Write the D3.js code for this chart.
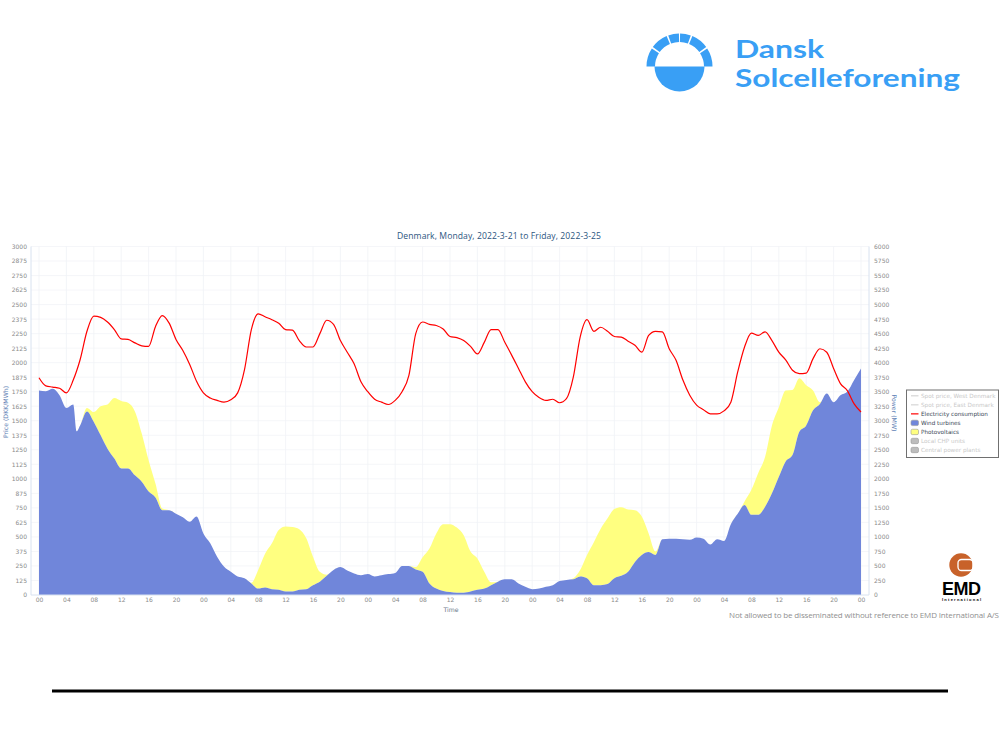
<!DOCTYPE html>
<html>
<head>
    <meta charset="utf-8">
    <style>
        body { margin: 0; background: white; }
        svg { display: block; }
        .axis path, .axis line { display: none; }
        .axis text { font-family: 'DejaVu Sans', sans-serif; font-size: 6px; fill: #8a8a8a; }
        .legend text { font-family: 'DejaVu Sans', sans-serif; font-size: 5.7px; }
    </style>
</head>
<body>
    <svg width="1000" height="750"></svg>
    <script src="https://d3js.org/d3.v7.min.js"></script>
    <script>
        // hours since monday 00:00, the extra 5.5 is there for the dip in the wind curve
        let hours = [
            0, 1, 2, 3, 4, 5, 5.5, 6, 7, 8, 9, 10, 11,
            12, 13, 14, 15, 16, 17, 18, 19, 20, 21, 22, 23,
            24, 25, 26, 27, 28, 29, 30, 31, 32, 33, 34, 35,
            36, 37, 38, 39, 40, 41, 42, 43, 44, 45, 46, 47,
            48, 49, 50, 51, 52, 53, 54, 55, 56, 57, 58, 59,
            60, 61, 62, 63, 64, 65, 66, 67, 68, 69, 70, 71,
            72, 73, 74, 75, 76, 77, 78, 79, 80, 81, 82, 83,
            84, 85, 86, 87, 88, 89, 90, 91, 92, 93, 94, 95,
            96, 97, 98, 99, 100, 101, 102, 103, 104, 105, 106, 107,
            108, 109, 110, 111, 112, 113, 114, 115, 116, 117, 118, 119,
            120
        ];
        // all in MW (right axis)
        let wind = [
            3520, 3510, 3550, 3440, 3220, 3280, 2820, 2920, 3160, 2980, 2750, 2520, 2350,
            2180, 2180, 2060, 1950, 1780, 1680, 1460, 1460, 1400, 1340, 1260, 1350,
            1060, 890, 660, 490, 400, 320, 290, 200, 110, 130, 100, 90,
            60, 60, 90, 100, 170, 230, 330, 430, 480, 420, 370, 340,
            360, 320, 340, 360, 380, 500, 500, 440, 400, 200, 110, 70,
            50, 40, 40, 60, 90, 110, 170, 230, 270, 270, 200, 140,
            100, 110, 140, 170, 240, 260, 270, 320, 290, 170, 170, 190,
            290, 330, 400, 570, 690, 740, 690, 960, 970, 970, 960, 950,
            990, 970, 870, 960, 930, 1220, 1400, 1550, 1380, 1380, 1520, 1750,
            2030, 2300, 2410, 2810, 2920, 3180, 3290, 3470, 3320, 3440, 3500, 3700,
            3900
        ];
        let solar = [
            0, 0, 0, 0, 0, 0, 0, 0, 60, 170, 500, 760, 1040,
            1160, 1130, 1100, 830, 540, 240, 30, 0, 0, 0, 0, 0,
            0, 0, 0, 0, 0, 0, 0, 10, 320, 580, 790, 1030,
            1120, 1110, 1040, 880, 490, 170, 20, 0, 0, 0, 0, 0,
            0, 0, 0, 0, 0, 0, 0, 40, 250, 600, 950, 1150,
            1170, 1120, 990, 690, 540, 290, 50, 0, 0, 0, 0, 0,
            0, 0, 0, 0, 0, 0, 20, 110, 400, 740, 970, 1130,
            1190, 1180, 1070, 890, 660, 320, 60, 0, 0, 0, 0, 0,
            0, 0, 0, 0, 0, 0, 0, 60, 430, 720, 860, 1170,
            1200, 1220, 1120, 920, 690, 340, 30, 0, 0, 0, 0, 0,
            0
        ];
        let consumption = [
            3740, 3600, 3580, 3560, 3480, 3700, 3860, 4050, 4540, 4800, 4780, 4700, 4570,
            4410, 4400, 4340, 4290, 4280, 4620, 4810, 4680, 4400, 4210, 3970, 3680,
            3480, 3390, 3350, 3320, 3360, 3480, 3880, 4570, 4840, 4790, 4740, 4680,
            4570, 4560, 4380, 4270, 4270, 4500, 4730, 4660, 4380, 4180, 3980, 3670,
            3500, 3370, 3320, 3280, 3350, 3500, 3780, 4500, 4700, 4660, 4640, 4580,
            4450, 4430, 4380, 4280, 4150, 4350, 4570, 4570, 4350, 4130, 3900, 3670,
            3500, 3400, 3350, 3370, 3310, 3380, 3750, 4440, 4740, 4540, 4610, 4540,
            4450, 4440, 4370, 4300, 4180, 4470, 4540, 4530, 4240, 4040, 3700, 3440,
            3270, 3190, 3120, 3120, 3170, 3320, 3840, 4270, 4510, 4470, 4530, 4380,
            4180, 4050, 3870, 3810, 3820, 4070, 4240, 4180, 3900, 3640, 3520, 3290,
            3150
        ];
        let timeTicks = d3.range(0, 121, 4);
        let priceTicks = d3.range(0, 3001, 125);
        let powerTicks = d3.range(0, 6001, 250);
        let legendLabels = ["Spot price, West Denmark", "Spot price, East Denmark", "Electricity consumption",
            "Wind turbines", "Photovoltaics", "Local CHP units", "Central power plants"];
        let legendColors = ["#d5d5d5", "#d5d5d5", "#ff0000", "#7086da", "#ffff80", "#bdbdbd", "#bdbdbd"];
        let legendOn = [false, false, true, true, true, false, false];

        let svg = d3.select("svg");

        // plot frame
        let plotLeft = 31, plotRight = 869, plotTop = 246.5, plotBottom = 595;

        let x = d3.scaleLinear().domain([0, 120]).range([39, 861]);
        let yPrice = d3.scaleLinear().domain([0, 3000]).range([plotBottom, plotTop]);
        let yPower = d3.scaleLinear().domain([0, 6000]).range([plotBottom, plotTop]);

        // grid
        svg.selectAll(".hgrid")
            .data(priceTicks.slice(1))
            .join("line")
            .attr("x1", plotLeft).attr("x2", plotRight)
            .attr("y1", d => yPrice(d)).attr("y2", d => yPrice(d))
            .style("stroke", "#f3f4f7").style("stroke-width", 0.8);

        svg.selectAll(".vgrid")
            .data(timeTicks)
            .join("line")
            .attr("x1", d => x(d)).attr("x2", d => x(d))
            .attr("y1", plotTop).attr("y2", plotBottom)
            .style("stroke", "#f0f2f6").style("stroke-width", 0.8);

        // stacked areas, wind at the bottom, solar on top of it
        let table = wind.map((w, i) => ({ hour: hours[i], wind: w, solar: solar[i] }));
        let stacked = d3.stack().keys(["wind", "solar"])(table);
        let area = d3.area()
            .curve(d3.curveMonotoneX)
            .x(d => x(d.data.hour))
            .y0(d => yPower(d[0]))
            .y1(d => yPower(d[1]));

        svg.append("path").attr("d", area(stacked[1])).style("fill", "#ffff80");
        svg.append("path").attr("d", area(stacked[0])).style("fill", "#7086da");

        let line = d3.line()
            .curve(d3.curveMonotoneX)
            .x((d, i) => x(hours[i]))
            .y(d => yPower(d));

        svg.append("path")
            .attr("d", line(consumption))
            .style("fill", "none")
            .style("stroke", "#ff0000")
            .style("stroke-width", 1.2);

        // axis lines
        svg.append("path")
            .attr("d", d3.line()([[plotLeft, plotTop], [plotLeft, plotBottom], [plotRight, plotBottom], [plotRight, plotTop]]))
            .style("fill", "none")
            .style("stroke", "#d8e2f0")
            .style("stroke-width", 1);

        // axes
        svg.append("g").attr("class", "axis")
            .attr("transform", `translate(${plotLeft - 4},0)`)
            .call(d3.axisLeft(yPrice).tickValues(priceTicks).tickSize(0).tickPadding(0).tickFormat(d3.format("d")));

        svg.append("g").attr("class", "axis")
            .attr("transform", `translate(${plotRight + 5},0)`)
            .call(d3.axisRight(yPower).tickValues(powerTicks).tickSize(0).tickPadding(0).tickFormat(d3.format("d")));

        svg.append("g").attr("class", "axis")
            .attr("transform", `translate(0,${plotBottom + 3})`)
            .call(d3.axisBottom(x).tickValues(timeTicks).tickSize(0).tickPadding(0)
                .tickFormat(d => d3.format("02")(d % 24)));

        // titles
        svg.append("text")
            .attr("x", 499).attr("y", 239)
            .attr("text-anchor", "middle")
            .attr("textLength", 204)
            .style("font-family", "'Open Sans', sans-serif")
            .style("font-size", "8.6px")
            .style("fill", "#2b5580")
            .text("Denmark, Monday, 2022-3-21 to Friday, 2022-3-25");

        svg.append("text")
            .attr("x", 451).attr("y", 612)
            .attr("text-anchor", "middle")
            .style("font-family", "'DejaVu Sans', sans-serif")
            .style("font-size", "6.2px")
            .style("fill", "#6b7a8c")
            .text("Time");

        svg.append("text")
            .attr("transform", "translate(8,412) rotate(-90)")
            .attr("text-anchor", "middle")
            .style("font-family", "'DejaVu Sans', sans-serif")
            .style("font-size", "6.2px")
            .style("fill", "#5f7fb5")
            .text("Price (DKK/MWh)");

        svg.append("text")
            .attr("transform", "translate(892,413) rotate(90)")
            .attr("text-anchor", "middle")
            .style("font-family", "'DejaVu Sans', sans-serif")
            .style("font-size", "6.2px")
            .style("fill", "#5f7fb5")
            .text("Power (MW)");

        // legend
        let legend = svg.append("g").attr("class", "legend");
        legend.append("rect")
            .attr("x", 906.5).attr("y", 390).attr("width", 92).attr("height", 67.5)
            .style("fill", "white").style("stroke", "#707070").style("stroke-width", 1);

        let rowY = d3.scaleLinear().domain([0, 6]).range([395.8, 450]);
        legendLabels.forEach((label, i) => {
            if (i < 3) {
                legend.append("line")
                    .attr("x1", 911).attr("x2", 918.5)
                    .attr("y1", rowY(i)).attr("y2", rowY(i))
                    .style("stroke", legendColors[i]).style("stroke-width", 1.2);
            } else {
                legend.append("rect")
                    .attr("x", 911).attr("y", rowY(i) - 2.7)
                    .attr("width", 7.5).attr("height", 5.4).attr("rx", 1.5)
                    .style("fill", legendColors[i]).style("stroke", "#999").style("stroke-width", 0.6);
            }
            legend.append("text")
                .attr("x", 921).attr("y", rowY(i) + 2)
                .style("fill", legendOn[i] ? "#3a4656" : "#c9c9c9")
                .text(label);
        });

        // footer note and rule
        svg.append("text")
            .attr("x", 729).attr("y", 618)
            .attr("textLength", 270)
            .style("font-family", "'Open Sans', sans-serif")
            .style("font-size", "8px")
            .style("fill", "#8f8f8f")
            .text("Not allowed to be disseminated without reference to EMD International A/S");

        svg.append("rect")
            .attr("x", 52).attr("y", 689.5).attr("width", 896).attr("height", 3)
            .style("fill", "black");

        // EMD logo
        svg.append("circle").attr("cx", 961).attr("cy", 565).attr("r", 11.7).style("fill", "#c8622a");
        svg.append("rect")
            .attr("x", 958).attr("y", 559.5).attr("width", 15).attr("height", 11).attr("rx", 3.5)
            .style("fill", "none").style("stroke", "white").style("stroke-width", 1.3);
        svg.append("text")
            .attr("x", 961.5).attr("y", 595)
            .attr("text-anchor", "middle")
            .attr("textLength", 39)
            .style("font-family", "'Liberation Sans', sans-serif")
            .style("font-weight", "bold")
            .style("font-size", "18px")
            .text("EMD");
        svg.append("text")
            .attr("x", 961.5).attr("y", 601)
            .attr("text-anchor", "middle")
            .attr("textLength", 39)
            .style("font-family", "'Liberation Sans', sans-serif")
            .style("font-weight", "bold")
            .style("font-size", "4px")
            .text("International");

        // Dansk Solcelleforening logo
        let logoBlue = "#399ff5";
        let logo = svg.append("g").attr("transform", "translate(679.5,66.5)");
        let sunTop = [[-90, -57], [-54, -23], [-20, -1], [1, 20], [23, 54], [57, 90]];
        let segment = d3.arc().innerRadius(24.5).outerRadius(33);
        logo.selectAll("path")
            .data(sunTop)
            .join("path")
            .attr("d", d => segment({ startAngle: d[0] * Math.PI / 180, endAngle: d[1] * Math.PI / 180 }))
            .style("fill", logoBlue);
        logo.append("path")
            .attr("d", d3.arc().innerRadius(0).outerRadius(25)({ startAngle: Math.PI / 2, endAngle: 3 * Math.PI / 2 }))
            .style("fill", logoBlue);

        // the two lines sit tight in the logo, 24px keeps their text boxes apart
        svg.append("text")
            .attr("x", 735).attr("y", 58)
            .attr("textLength", 89)
            .attr("lengthAdjust", "spacingAndGlyphs")
            .style("font-family", "Lato, sans-serif").style("font-weight", "bold")
            .style("font-size", "24px").style("fill", logoBlue)
            .text("Dansk");
        svg.append("text")
            .attr("x", 735).attr("y", 87)
            .attr("textLength", 225)
            .attr("lengthAdjust", "spacingAndGlyphs")
            .style("font-family", "Lato, sans-serif").style("font-weight", "bold")
            .style("font-size", "24px").style("fill", logoBlue)
            .text("Solcelleforening");
    </script>
</body>
</html>
